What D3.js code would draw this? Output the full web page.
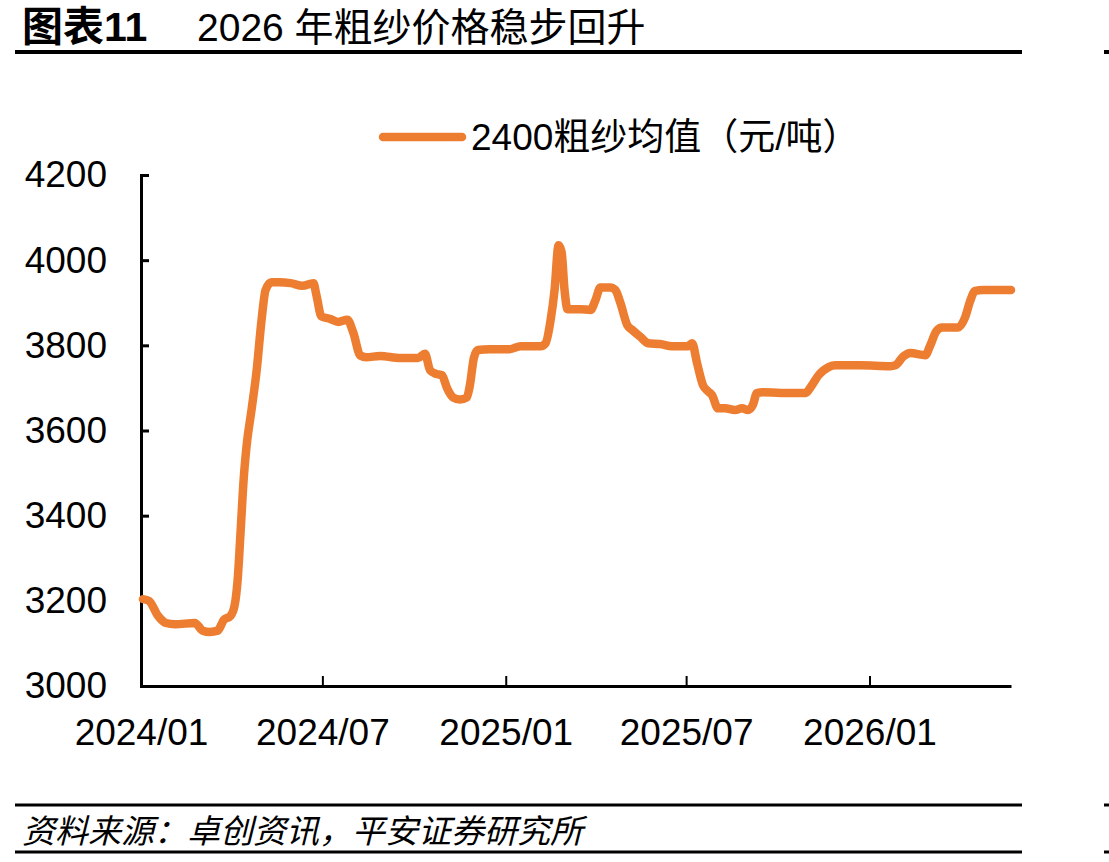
<!DOCTYPE html>
<html>
<head>
<meta charset="utf-8">
<script src="https://cdn.jsdelivr.net/npm/d3@7"></script>
<style>
  body { margin: 0; background: #fff; }
  svg { font-family: "Liberation Sans", Arial, "Noto Sans CJK SC", sans-serif; }
</style>
</head>
<body>
<div id="chart-area"></div>
<script>
// 2400粗纱均值（元/吨）
var dates = [
  "2024-01-03","2024-01-09","2024-01-18","2024-01-26","2024-02-04","2024-02-24",
  "2024-03-03","2024-03-10","2024-03-18","2024-03-24","2024-03-31","2024-04-04",
  "2024-04-07","2024-04-10","2024-04-13","2024-04-16","2024-04-21","2024-04-26",
  "2024-05-01","2024-05-05","2024-05-11","2024-05-18","2024-05-30","2024-06-11",
  "2024-06-22","2024-06-25","2024-06-30","2024-07-09","2024-07-17","2024-07-26",
  "2024-08-01","2024-08-08","2024-08-14","2024-08-28","2024-09-17","2024-10-05",
  "2024-10-12","2024-10-17","2024-10-23","2024-10-29","2024-11-03","2024-11-09",
  "2024-11-16","2024-11-23","2024-11-26","2024-11-30","2024-12-04","2024-12-16",
  "2025-01-05","2025-01-16","2025-02-05","2025-02-10","2025-02-15","2025-02-19",
  "2025-02-23","2025-02-26","2025-03-01","2025-03-04","2025-03-09","2025-03-17",
  "2025-03-27","2025-04-01","2025-04-06","2025-04-16","2025-04-21","2025-04-26",
  "2025-05-03","2025-05-08","2025-05-16","2025-05-24","2025-06-05","2025-06-17",
  "2025-07-03","2025-07-07","2025-07-12","2025-07-18","2025-07-23","2025-07-27",
  "2025-08-02","2025-08-09","2025-08-19","2025-08-26","2025-09-01","2025-09-06",
  "2025-09-10","2025-09-16","2025-10-04","2025-10-24","2025-10-29","2025-11-03",
  "2025-11-11","2025-11-21","2025-11-28","2025-12-23","2026-01-22","2026-01-27",
  "2026-02-04","2026-02-11","2026-02-26","2026-03-03","2026-03-09","2026-03-15",
  "2026-03-31","2026-04-07","2026-04-12","2026-04-17","2026-04-25","2026-05-23"
];
var prices = [
  3204,3200,3165,3148,3145,3148,
  3130,3127,3130,3155,3165,3190,
  3250,3365,3485,3565,3650,3740,
  3860,3930,3948,3948,3946,3940,
  3946,3918,3868,3862,3855,3860,
  3830,3776,3772,3775,3770,3770,
  3780,3742,3733,3730,3700,3678,
  3673,3678,3706,3770,3789,3791,
  3791,3798,3798,3805,3859,3930,
  4035,4020,3930,3885,3885,3885,
  3883,3906,3936,3936,3930,3900,
  3847,3836,3820,3805,3803,3798,
  3798,3805,3758,3706,3692,3683,
  3652,3652,3648,3652,3648,3660,
  3688,3690,3688,3688,3688,3702,
  3730,3749,3753,3753,3751,3753,
  3774,3782,3777,3800,3833,3842,
  3842,3866,3904,3928,3930,3930
];
var yTicks = [3000, 3200, 3400, 3600, 3800, 4000, 4200];
var xTicks = ["2024-01-01", "2024-07-01", "2025-01-01", "2025-07-01", "2026-01-01"];
var xStart = "2024-01-01", xEnd = "2026-05-23";
var seriesName = "2400粗纱均值（元/吨）";
var title = "2026 年粗纱价格稳步回升";
var source = "资料来源：卓创资讯，平安证券研究所";

var W = 1109, H = 862;
var margin = {top: 175, bottom: 176, left: 141, right: 98};
var width = W - margin.left - margin.right;
var height = H - margin.top - margin.bottom;
var orange = "#ED7D31";
var parse = d3.timeParse("%Y-%m-%d");

var data = dates.map((d, i) => ({date: parse(d), value: prices[i]}));

var svg = d3.select("#chart-area").append("svg")
    .attr("width", W)
    .attr("height", H);

// title and rules
svg.append("text")
    .attr("x", 22)
    .attr("y", 41)
    .attr("font-size", "41px")
    .attr("font-weight", "bold")
    .text("图表11");
svg.append("text")
    .attr("x", 197)
    .attr("y", 41)
    .attr("font-size", "39px")
    .text(title);

[[52, 4], [805, 3], [852, 3]].forEach((r) => {
    svg.append("line")
        .attr("x1", 15).attr("x2", 1022)
        .attr("y1", r[0]).attr("y2", r[0])
        .attr("stroke", "#000").attr("stroke-width", r[1]);
    svg.append("line")
        .attr("x1", 1104).attr("x2", 1109)
        .attr("y1", r[0]).attr("y2", r[0])
        .attr("stroke", "#000").attr("stroke-width", r[1]);
});

svg.append("text")
    .attr("x", 22)
    .attr("y", 843)
    .attr("font-size", "33px")
    .attr("font-style", "italic")
    .text(source);

var g = svg.append("g")
    .attr("transform", "translate(" + margin.left + "," + margin.top + ")");

var x = d3.scaleTime()
    .domain([parse(xStart), parse(xEnd)])
    .range([0, width]);

var y = d3.scaleLinear()
    .domain([3000, 4200])
    .range([height, 0]);

var leftAxis = d3.axisLeft(y)
    .tickValues(yTicks)
    .tickSize(-8)
    .tickPadding(34)
    .tickFormat(d3.format("d"));

var yAxisGroup = g.append("g").call(leftAxis);
yAxisGroup.select(".domain").attr("stroke-width", 3);
yAxisGroup.selectAll(".tick line").attr("stroke-width", 3);
yAxisGroup.selectAll("text")
    .attr("font-size", "37px")
    .attr("font-family", "Liberation Sans, Arial, sans-serif")
    .attr("fill", "#000");

var bottomAxis = d3.axisBottom(x)
    .tickValues(xTicks.map(parse))
    .tickSize(-10)
    .tickSizeOuter(0)
    .tickPadding(33)
    .tickFormat(d3.timeFormat("%Y/%m"));

var xAxisGroup = g.append("g")
    .attr("transform", "translate(0," + height + ")")
    .call(bottomAxis);
xAxisGroup.select(".domain").attr("stroke-width", 3);
xAxisGroup.selectAll(".tick line").attr("stroke-width", 2);
xAxisGroup.selectAll("text")
    .attr("font-size", "37px")
    .attr("font-family", "Liberation Sans, Arial, sans-serif")
    .attr("fill", "#000");

var line = d3.line()
    .x((d) => x(d.date))
    .y((d) => y(d.value))
    .curve(d3.curveMonotoneX);

g.append("path")
    .datum(data)
    .attr("fill", "none")
    .attr("stroke", orange)
    .attr("stroke-width", 8.5)
    .attr("stroke-linejoin", "round")
    .attr("stroke-linecap", "round")
    .attr("d", line);

// legend
var legend = svg.append("g").attr("transform", "translate(383,137)");
legend.append("line")
    .attr("x1", 0).attr("x2", 79)
    .attr("stroke", orange)
    .attr("stroke-width", 8.5)
    .attr("stroke-linecap", "round");
legend.append("text")
    .attr("x", 88)
    .attr("y", 13)
    .attr("font-size", "37px")
    .text(seriesName);
</script>
</body>
</html>
